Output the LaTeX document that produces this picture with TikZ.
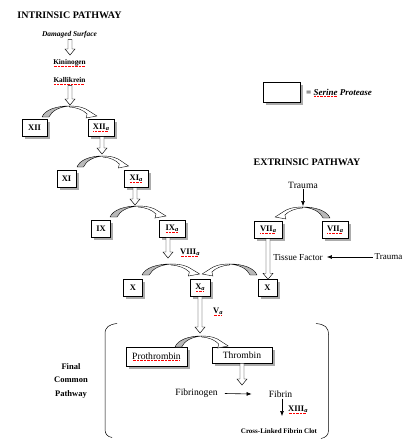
\documentclass[tikz,border=0pt]{standalone}
\usepackage{fontspec}
\setmainfont{Liberation Serif}
\usetikzlibrary{arrows.meta,shadows,calc}
\newcommand{\fsz}[1]{\fontsize{#1}{#1}\selectfont}
\newcommand{\rw}[1]{\setbox0=\hbox{#1}\rlap{\raisebox{-1.6pt}{\color{red}\hbox to \wd0{\leaders\hbox to 1.4pt{\hss\rule{0.55pt}{0.55pt}\hss}\hfill}}}\box0\relax}
\newcommand{\suba}{\raisebox{-1pt}{\fsz{6.5}\bfseries\itshape a}}
\newcommand{\bendarrow}[2]{%
 \begin{scope}[shift={(#1)}, xscale=#2]
  \filldraw[fill=gray!55, line width=0.4pt, line join=round] (0,0) .. controls (3,-7) and (14,-11) .. (28,-11) .. controls (17,-10) and (10,-6) .. (7,0) -- cycle;
  \filldraw[fill=white, line width=0.4pt, line join=miter] (28,-11) .. controls (38,-11) and (44,-9) .. (48,-6) -- (56,-1) -- (45,1) -- (46,-3) .. controls (42,-7) and (36,-9.5) .. (28,-10) -- cycle;
 \end{scope}}
\newcommand{\blockdown}[2]{%
 \draw[fill=white, line width=0.45pt, line join=miter] let \p1=(#1), \p2=(#2) in
  (\x1-2pt,\y1) -- (\x1-2pt,\y2+6pt) -- (\x1-5pt,\y2+6pt) -- (\x1,\y2) -- (\x1+5pt,\y2+6pt) -- (\x1+2pt,\y2+6pt) -- (\x1+2pt,\y1) -- cycle;}
\begin{document}
\begin{tikzpicture}[x=1pt,y=-1pt,
  box/.style={draw, fill=white, line width=0.5pt, inner sep=0pt, minimum height=17pt, font=\fsz{8.5}\bfseries, drop shadow={shadow xshift=2.5pt, shadow yshift=-2.5pt, fill=gray!65, opacity=1}},
  pbox/.style={box, font=\fsz{9.6}},
  txt/.style={inner sep=1pt, font=\fsz{9.6}},
  hdr/.style={inner sep=0pt, font=\fsz{10}\bfseries},
  small/.style={inner sep=1pt, font=\fsz{7.3}\bfseries},
  arr/.style={-{Latex[length=5pt,width=4pt]}, line width=0.6pt}
]
\useasboundingbox[fill=white] (0,0) rectangle (403,439);

% headers
\node[hdr] (intr) at (69.5,15) {INTRINSIC PATHWAY};
\node[hdr] (extr) at (307,162) {EXTRINSIC PATHWAY};

% intrinsic start
\node[small, font=\fsz{7.4}\bfseries\itshape] (ds) at (69.5,35) {Damaged Surface};
\node[small] (kin) at (69.5,63) {\rw{Kininogen}};
\node[small] (kal) at (69.5,81) {\rw{Kallikrein}};
\coordinate (t1) at (70,55);
\coordinate (t2) at (70,105);
\blockdown{ds.south -| t1}{t1}
\blockdown{kal.south -| t2}{t2}

% legend
\node[box, minimum width=37pt, minimum height=20pt] (leg) at (281.5,92) {};
\node[anchor=west, inner sep=0pt, font=\fsz{9}\bfseries\itshape] (legt) at (306,93) {= \rw{Serine} Protease};

% boxes
\node[box, minimum width=25pt] (xii) at (34.5,128) {XII};
\node[box, minimum width=26pt] (xiia) at (101,128) {\rw{XII\suba}};
\node[box, minimum width=19pt] (xi) at (66.5,179) {XI};
\node[box, minimum width=24pt] (xia) at (136,179) {\rw{XI\suba}};
\node[box, minimum width=19pt] (ix) at (101,229) {IX};
\node[box, minimum width=26pt] (ixa) at (172,229) {\rw{IX\suba}};
\node[box, minimum width=19pt] (xl) at (133,288) {X};
\node[box, minimum width=20pt] (xa) at (200,288) {\rw{X\suba}};
\node[box, minimum width=19pt] (xr) at (267.5,288) {X};
\node[box, minimum width=28pt] (viia) at (268,230) {\rw{VII\suba}};
\node[box, minimum width=26pt] (viiar) at (335,230) {\rw{VII\suba}};
\node[pbox, minimum width=61pt, minimum height=19pt] (pro) at (156.5,356.5) {\rw{Prothrombin}};
\node[pbox, minimum width=60pt, minimum height=16pt] (thr) at (242,355) {Thrombin};

% bend arrows (activation)
\coordinate (b1) at (42,117);
\coordinate (b2) at (77,167);
\coordinate (b3) at (110,217);
\coordinate (b4) at (142,275);
\coordinate (b5) at (257,275);
\coordinate (b6) at (330,218);
\coordinate (b7) at (175,347);
\bendarrow{b1}{0.98}
\bendarrow{b2}{0.92}
\bendarrow{b3}{1.0}
\bendarrow{b4}{1.03}
\bendarrow{b5}{-0.98}
\bendarrow{b6}{-0.98}
\bendarrow{b7}{0.95}

% block arrows
\coordinate (t3) at (102,154);
\coordinate (t4) at (135,205);
\coordinate (t5) at (168,258);
\coordinate (t7) at (200,333);
\coordinate (t8) at (242,385);
\blockdown{xiia.south -| t3}{t3}
\blockdown{xia.south -| t4}{t4}
\blockdown{ixa.south -| t5}{t5}
\blockdown{viia.south}{xr.north}
\blockdown{xa.south}{t7}
\blockdown{thr.south}{t8}

% labels
\node[anchor=west, inner sep=0pt, font=\fsz{8.5}\bfseries] (viiia) at (180,253) {\rw{VIII\suba}};
\node[anchor=west, inner sep=0pt, font=\fsz{8.5}\bfseries] (va) at (213,312) {\rw{V\suba}};

% extrinsic
\node[txt] (tr1) at (303,185) {Trauma};
\coordinate (tr1e) at (303,206);
\draw[arr] (tr1.south) -- (tr1e);
\node[txt, font=\fsz{9.2}] (tf) at (298,257) {Tissue Factor};
\node[anchor=east, inner sep=0.5pt, font=\fsz{9}] (tr2) at (403,257) {Trauma};
\draw[arr] ([xshift=-1pt]tr2.west) -- ([xshift=3pt]tf.east);

% final common pathway
\node[align=center, inner sep=0pt, font=\fontsize{8.5}{13.5}\selectfont\bfseries] (fcp) at (71,380.5) {Final\\Common\\Pathway};
\draw[line width=0.5pt] (117,323.5) .. controls (109,324.5) and (105,327) .. (105,334) -- (105,429) .. controls (105,434) and (107,436.5) .. (112,437.5);
\draw[line width=0.5pt] (316,323.5) .. controls (325,324.5) and (328.5,327) .. (328.5,335) -- (328.5,430) .. controls (328.5,435) and (326,437.5) .. (321,438.5);

\node[txt] (fg) at (196.5,393.5) {Fibrinogen};
\node[txt] (fb) at (280.5,394) {Fibrin};
\draw[arr] ([xshift=6pt]fg.east) -- ([xshift=-16pt]fb.west);
\node[anchor=west, inner sep=0pt, font=\fsz{8.5}\bfseries] (xiiia) at (288,410) {\rw{XIII\suba}};
\node[small, font=\fsz{7}\bfseries] (clot) at (279,431) {Cross-Linked Fibrin Clot};
\coordinate (fbt) at (282,416);
\draw[arr] (fb.south -| fbt) -- (fbt);
\end{tikzpicture}
\end{document}
